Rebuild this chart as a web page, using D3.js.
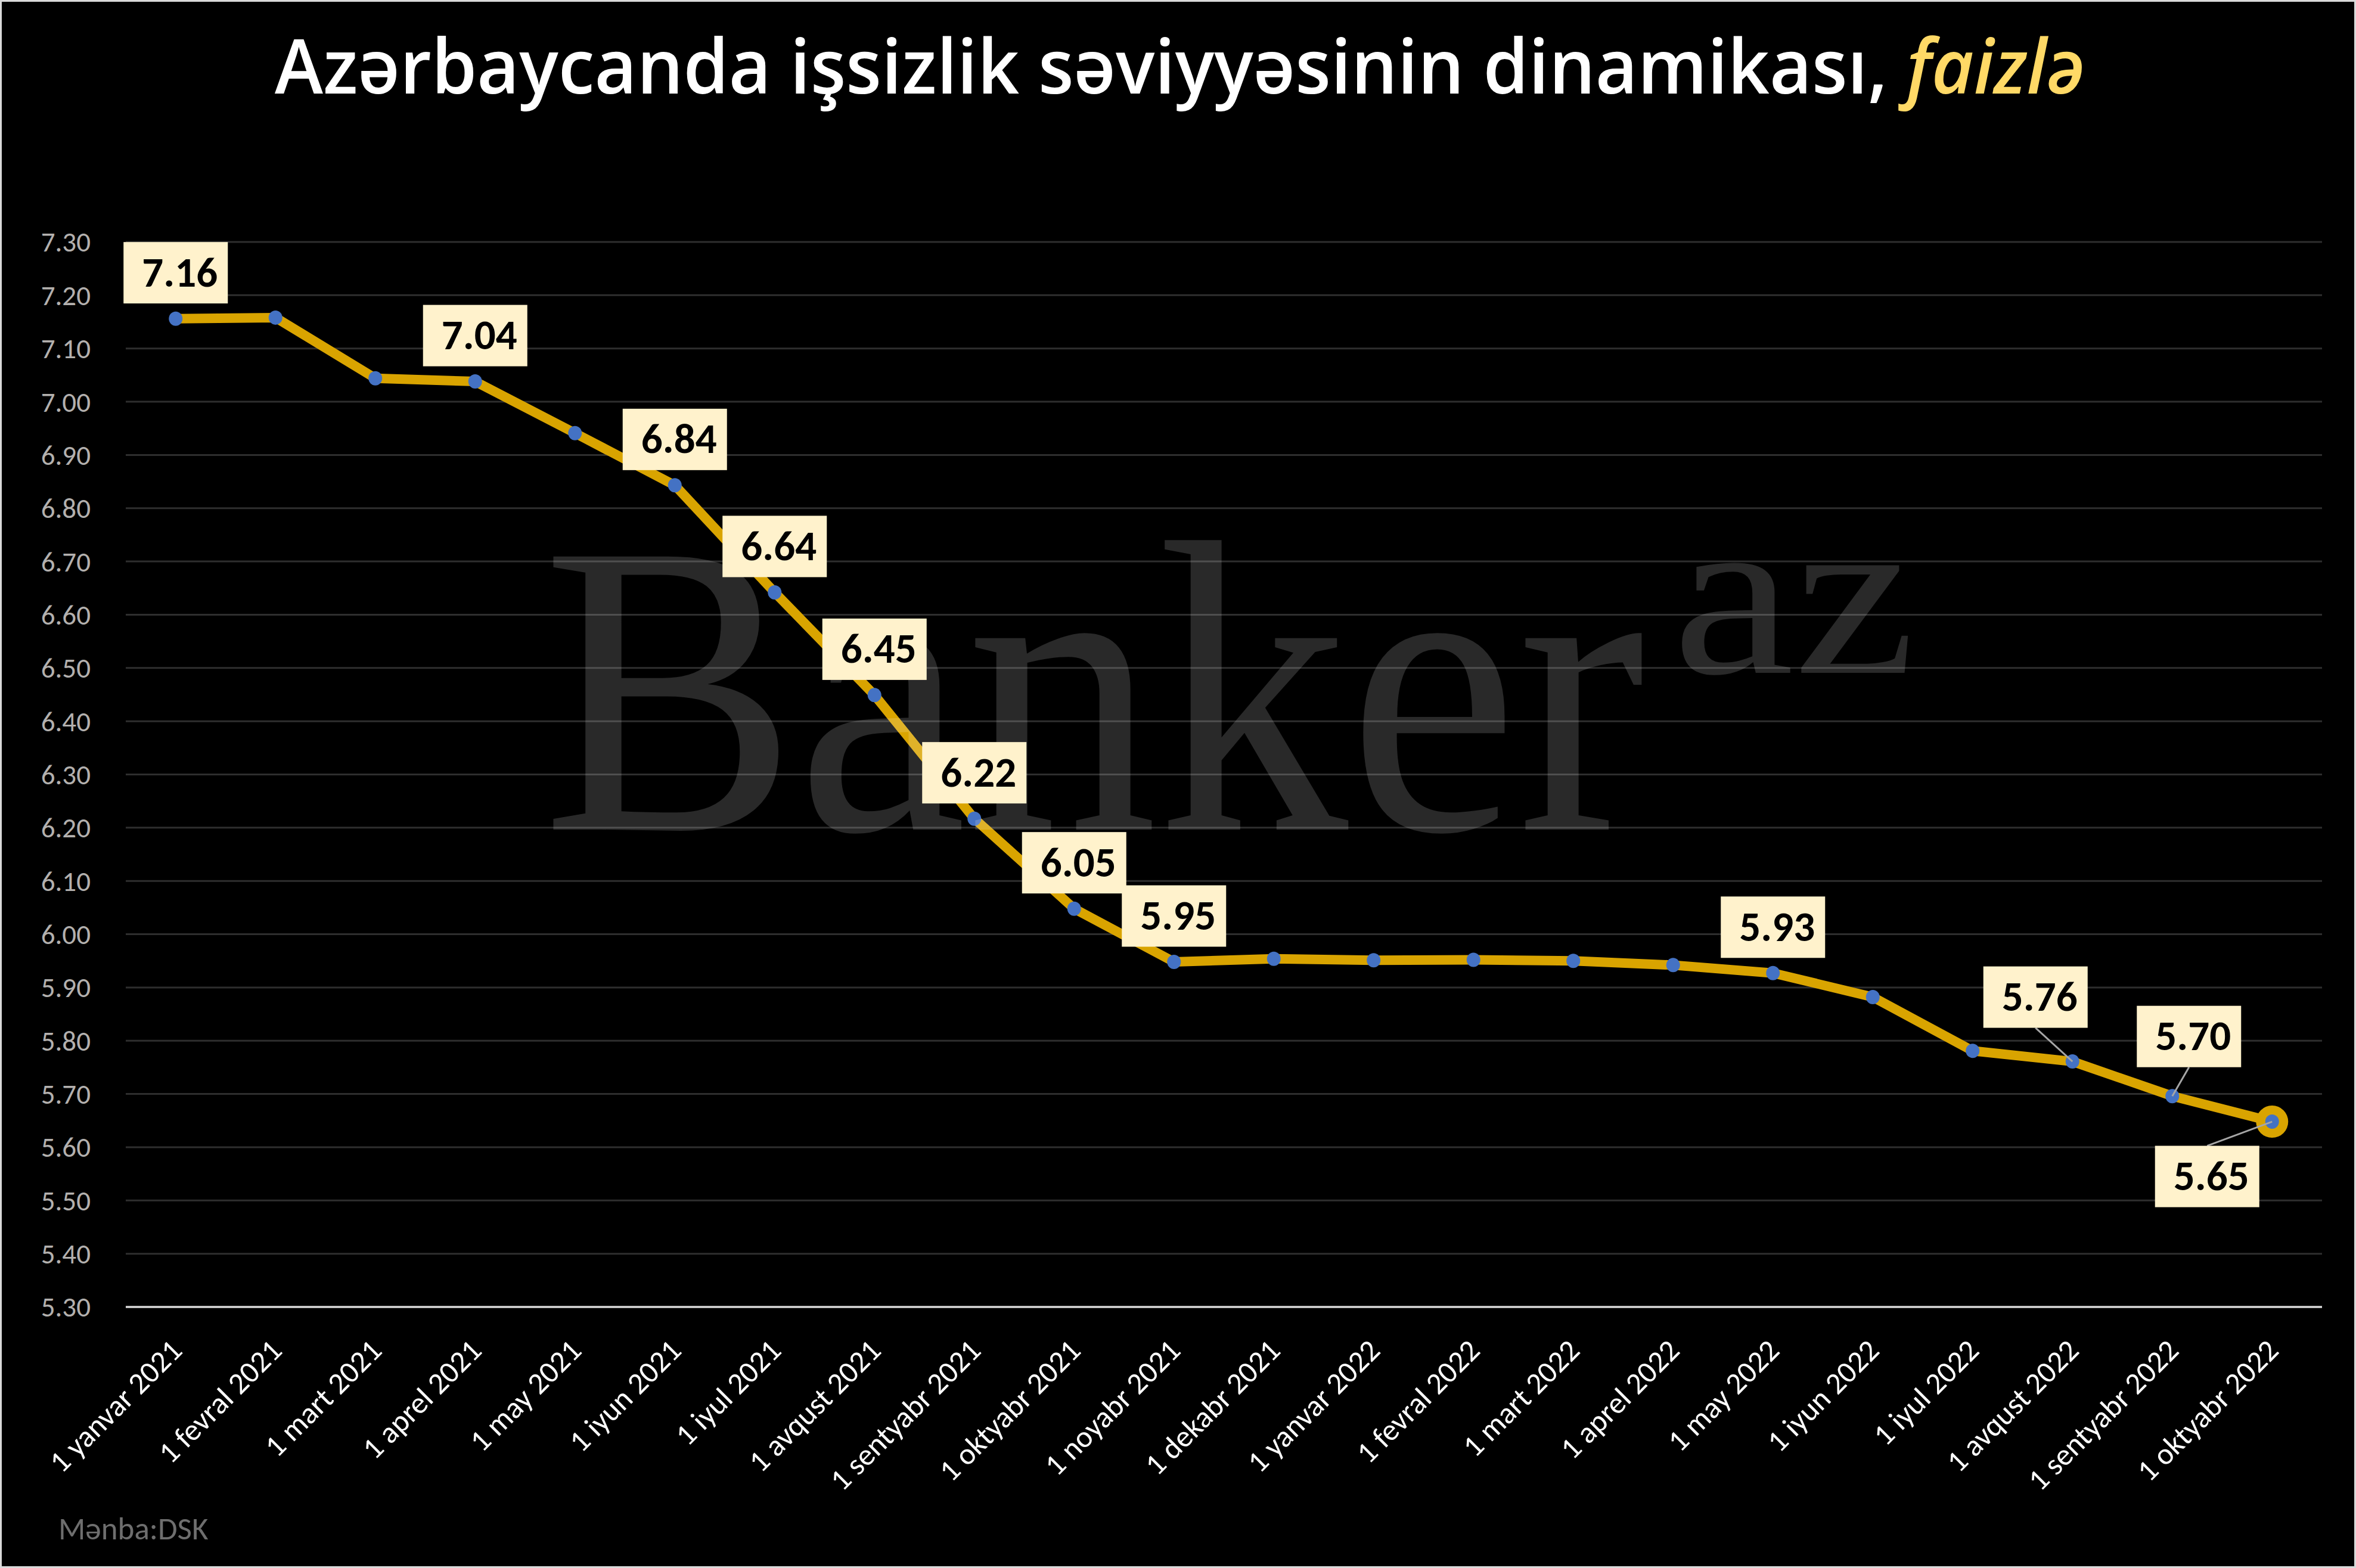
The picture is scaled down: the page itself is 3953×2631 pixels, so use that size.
<!DOCTYPE html>
<html><head><meta charset="utf-8">
<script src="https://cdn.jsdelivr.net/npm/d3@7"></script>
<style>html,body{margin:0;padding:0;background:#000;} svg{display:block;}</style>
</head><body>
<svg id="chart" width="3953" height="2631"></svg>
<script>
const categories = ["1 yanvar 2021","1 fevral 2021","1 mart 2021","1 aprel 2021","1 may 2021","1 iyun 2021","1 iyul 2021","1 avqust 2021","1 sentyabr 2021","1 oktyabr 2021","1 noyabr 2021","1 dekabr 2021","1 yanvar 2022","1 fevral 2022","1 mart 2022","1 aprel 2022","1 may 2022","1 iyun 2022","1 iyul 2022","1 avqust 2022","1 sentyabr 2022","1 oktyabr 2022"];
const values = [7.156,7.158,7.044,7.038,6.941,6.843,6.642,6.449,6.217,6.048,5.948,5.954,5.951,5.952,5.950,5.942,5.927,5.882,5.781,5.761,5.696,5.648];
const labelledIndices = [0,3,5,6,7,8,9,10,16,19,20,21];
const yTicks = [5.3,5.4,5.5,5.6,5.7,5.8,5.9,6.0,6.1,6.2,6.3,6.4,6.5,6.6,6.7,6.8,6.9,7.0,7.1,7.2,7.3];
const titleMain = "Azərbaycanda işsizlik səviyyəsinin dinamikası, ";
const titleAccent = "faizlə";
const sourceText = "Mənba:DSK";
const watermarkMain = "Banker";
const watermarkSup = "az";

(function () {
const W = 3953, H = 2631;
const FONT = "Calibri, Carlito, Lato, 'Liberation Sans', Arial, sans-serif";
const svg = d3.select("#chart");
svg.append("rect").attr("x",0).attr("y",0).attr("width",W).attr("height",H).attr("fill","#000");

const plotLeft = 211, plotRight = 3896, plotTop = 406, plotBottom = 2193;
const x = d3.scalePoint().domain(categories).range([plotLeft, plotRight]).padding(0.5);
const y = d3.scaleLinear().domain([5.3, 7.3]).range([plotBottom, plotTop]);
const fmt = d3.format(".2f");

// gridlines
const gridG = svg.append("g");
gridG.selectAll("line").data(yTicks.filter(t => t > 5.31)).enter().append("line")
  .attr("x1", plotLeft).attr("x2", plotRight)
  .attr("y1", d => y(d)).attr("y2", d => y(d))
  .attr("stroke", "#2e2e2e").attr("stroke-width", 3);

// y axis labels
const yAxis = d3.axisLeft(y).tickValues(yTicks).tickFormat(fmt).tickSize(0).tickPadding(0);
const yg = svg.append("g").attr("transform", `translate(152,0)`).call(yAxis);
yg.select(".domain").remove();
yg.selectAll("text").attr("fill", "#b3b0ae")
  .attr("font-family", FONT)
  .attr("font-size", 47).attr("dy", "0.34em").attr("text-anchor", "end").attr("x", 0);

// x axis line
svg.append("line").attr("x1", plotLeft).attr("x2", plotRight).attr("y1", plotBottom).attr("y2", plotBottom)
  .attr("stroke", "#d9d9d9").attr("stroke-width", 3.5);

// x axis labels
const xAxis = d3.axisBottom(x).tickSize(0).tickPadding(0);
const xg = svg.append("g").attr("transform", `translate(0,${plotBottom})`).call(xAxis);
xg.select(".domain").remove();
xg.selectAll(".tick text")
  .attr("fill", "#ffffff")
  .attr("font-family", FONT)
  .attr("font-size", 51)
  .attr("text-anchor", "end")
  .attr("dy", 0).attr("y", 0)
  .attr("transform", "translate(13,76) rotate(-45)");

// line
const pts = categories.map((c, i) => ({c, v: values[i], i}));
const line = d3.line().x(d => x(d.c)).y(d => y(d.v));
svg.append("path").datum(pts).attr("d", line)
  .attr("fill", "none").attr("stroke", "#d9a400").attr("stroke-width", 16)
  .attr("stroke-linejoin", "round");

// last point highlight ring
const last = pts[pts.length - 1];
svg.append("circle").attr("cx", x(last.c)).attr("cy", y(last.v)).attr("r", 27).attr("fill", "#d9a400");

// markers
svg.append("g").selectAll("ellipse").data(pts).enter().append("ellipse")
  .attr("cx", d => x(d.c)).attr("cy", d => y(d.v)).attr("rx", 11.5).attr("ry", 12)
  .attr("fill", "#4472c4");

// watermark (semi-transparent overlay)
const wm = svg.append("g").attr("fill", "#ffffff").attr("fill-opacity", 0.16)
  .attr("font-family", "'Liberation Serif', 'DejaVu Serif', serif");
wm.append("text").attr("x", 910).attr("y", 1392).attr("font-size", 700)
  .attr("textLength", 1850).attr("lengthAdjust", "spacingAndGlyphs").text(watermarkMain);
wm.append("text").attr("x", 2806).attr("y", 1129).attr("font-size", 393)
  .attr("textLength", 408).attr("lengthAdjust", "spacingAndGlyphs").text(watermarkSup);

// data labels
const labelOffset = {19: [-62, -108], 20: [28, -100], 21: [-109, 92]};
const boxW = 175, boxH = 103;
const lg = svg.append("g");
labelledIndices.forEach(i => {
  const p = pts[i];
  const px = x(p.c), py = y(p.v);
  const off = labelOffset[i] || [0, -77];
  const cx = px + off[0], cy = py + off[1];
  if (labelOffset[i]) {
    const ly = off[1] < 0 ? cy + boxH / 2 : cy - boxH / 2;
    lg.append("line").attr("x1", cx).attr("y1", ly).attr("x2", px).attr("y2", py)
      .attr("stroke", "#a6a6a6").attr("stroke-width", 3);
  }
  lg.append("rect").attr("x", cx - boxW / 2).attr("y", cy - boxH / 2)
    .attr("width", boxW).attr("height", boxH).attr("fill", "#fff2cc");
  lg.append("text").attr("x", cx + 7).attr("y", cy + 23)
    .attr("text-anchor", "middle")
    .attr("font-family", FONT)
    .attr("font-weight", "bold").attr("font-size", 71).attr("fill", "#000")
    .text(fmt(p.v));
});

// title
const title = svg.append("text").attr("x", 0).attr("y", 0)
  .attr("font-family", "'Open Sans', 'Noto Sans', sans-serif")
  .attr("font-weight", 600).attr("font-size", 127);
title.append("tspan").attr("fill", "#ffffff").text(titleMain);
title.append("tspan").attr("fill", "#ffd966").attr("font-style", "italic").text(titleAccent);
const tw = title.node().getComputedTextLength();
const sx = 3038 / tw;
title.attr("transform", `translate(461,157) scale(${sx},1)`);

// source
svg.append("text").attr("x", 98).attr("y", 2583)
  .attr("font-family", FONT)
  .attr("font-size", 53).attr("fill", "#6e6e6e").text(sourceText);

// border
svg.append("rect").attr("x", 1.5).attr("y", 1.5).attr("width", W - 3).attr("height", H - 3)
  .attr("fill", "none").attr("stroke", "#d9d9d9").attr("stroke-width", 3);
})();
</script>
</body></html>
